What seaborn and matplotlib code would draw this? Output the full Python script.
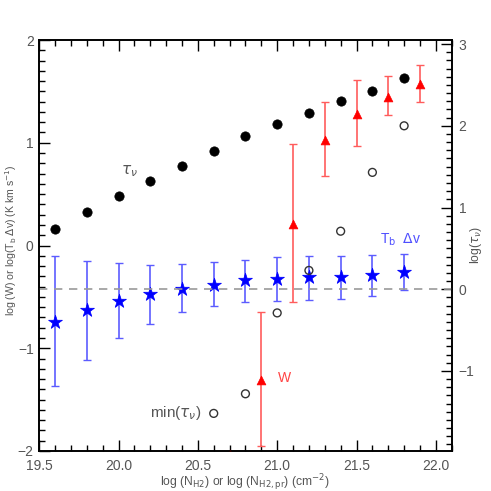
import numpy as np
import pandas as pd
import matplotlib
matplotlib.use('Agg')
import matplotlib.pyplot as plt
import seaborn as sns
from matplotlib.ticker import MultipleLocator

# log N(H2) bins
x_tau = [19.6, 19.8, 20.0, 20.2, 20.4, 20.6, 20.8, 21.0, 21.2, 21.4, 21.6, 21.8]
log_tau = [0.74, 0.95, 1.14, 1.33, 1.51, 1.69, 1.87, 2.02, 2.16, 2.30, 2.43, 2.58]

x_mintau = [20.6, 20.8, 21.0, 21.2, 21.4, 21.6, 21.8]
log_mintau = [-1.52, -1.28, -0.29, 0.23, 0.71, 1.43, 2.00]

x_w = [20.7, 20.9, 21.1, 21.3, 21.5, 21.7, 21.9]
log_w = [-2.03, -1.31, 0.21, 1.03, 1.28, 1.45, 1.57]
w_err_lo = [0.0, 0.64, 0.76, 0.35, 0.31, 0.18, 0.17]
w_err_hi = [0.0, 0.66, 0.78, 0.37, 0.33, 0.20, 0.19]

x_tb = [19.6, 19.8, 20.0, 20.2, 20.4, 20.6, 20.8, 21.0, 21.2, 21.4, 21.6, 21.8]
log_tb = [-0.74, -0.63, -0.54, -0.47, -0.42, -0.38, -0.34, -0.33, -0.31, -0.31, -0.29, -0.26]
tb_err_lo = [0.63, 0.48, 0.36, 0.29, 0.23, 0.21, 0.21, 0.21, 0.22, 0.21, 0.20, 0.17]
tb_err_hi = [0.64, 0.48, 0.37, 0.28, 0.24, 0.22, 0.20, 0.22, 0.21, 0.21, 0.20, 0.18]

sns.set_style('ticks')
plt.rcParams['font.family'] = ['Liberation Sans', 'DejaVu Sans']
plt.rcParams['mathtext.fontset'] = 'dejavusans'

grey = '#555555'

fig = plt.figure(figsize=(4.91, 4.91), dpi=100)
ax = fig.add_axes([0.0798, 0.0815, 0.8402, 0.837])
ax2 = ax.twinx()

# left axis: W and Tb dv
ax.errorbar(x_tb, log_tb, yerr=[tb_err_lo, tb_err_hi], fmt='none',
            ecolor='#5c5cff', elinewidth=1.2, capsize=3, capthick=1.0, zorder=2)
sns.scatterplot(x=x_tb, y=log_tb, marker='*', s=110, color='blue',
                edgecolor='blue', linewidth=0.5, ax=ax, zorder=3)
ax.errorbar(x_w, log_w, yerr=[w_err_lo, w_err_hi], fmt='none',
            ecolor='#ff5c5c', elinewidth=1.2, capsize=3, capthick=1.0, zorder=2)
sns.scatterplot(x=x_w, y=log_w, marker='^', s=40, color='red',
                edgecolor='red', linewidth=0.5, ax=ax, zorder=3)

# right axis: optical depth
sns.scatterplot(x=x_tau, y=log_tau, marker='o', s=45, color='black',
                edgecolor='black', linewidth=0.5, ax=ax2, zorder=3)
sns.scatterplot(x=x_mintau, y=log_mintau, marker='o', s=32, facecolor='none',
                edgecolor='#333333', linewidth=1.0, ax=ax2, zorder=3)
ax2.axhline(0, color='#999999', ls=(0, (5, 4)), lw=1.2, zorder=1)

ax.set_xlim(19.5, 22.1)
ax.set_ylim(-2, 2)
ax2.set_ylim(-1.98, 3.05)

ax.xaxis.set_major_locator(MultipleLocator(0.5))
ax.xaxis.set_minor_locator(MultipleLocator(0.1))
ax.yaxis.set_major_locator(MultipleLocator(1))
ax.yaxis.set_minor_locator(MultipleLocator(0.1))
ax2.yaxis.set_major_locator(MultipleLocator(1))
ax2.yaxis.set_minor_locator(MultipleLocator(0.1))
ax.xaxis.set_major_formatter(matplotlib.ticker.FormatStrFormatter('%.1f'))

ax.tick_params(which='both', direction='in', top=True, right=False,
               colors='black', labelcolor=grey, labelsize=10, pad=4)
ax.tick_params(axis='x', which='both', pad=6)
ax.tick_params(which='major', length=8, width=1)
ax.tick_params(which='minor', length=4, width=1)
ax2.tick_params(which='both', direction='in', colors='black', labelcolor=grey,
                labelsize=10, pad=5)
ax2.tick_params(which='major', length=8, width=1)
ax2.tick_params(which='minor', length=4, width=1)

for a in (ax, ax2):
    for sp in a.spines.values():
        sp.set_linewidth(1.2)
        sp.set_color('black')

ax.set_xlabel(r'log (N$_{\rm H2}$) or log (N$_{\rm H2,pr}$) (cm$^{-2}$)',
              color=grey, fontsize=8.7, labelpad=-1)
ax.set_ylabel(r'log (W) or log(T$_{\rm b}$ $\Delta$v) (K km s$^{-1}$)',
              color=grey, fontsize=7.6)
ax.yaxis.set_label_coords(-0.05, 0.513)
ax2.set_ylabel(r'log($\tau_\nu$)', color=grey, fontsize=8.7)
ax2.yaxis.set_label_coords(1.04, 0.5)

ax.text(20.07, 0.72, r'$\tau_\nu$', color=grey, fontsize=11, ha='center', va='center')
ax.text(20.36, -1.63, r'min($\tau_\nu$)', color=grey, fontsize=11, ha='center', va='center')
ax.text(21.045, -1.29, 'W', color='#ff4444', fontsize=10, ha='center', va='center')
ax.text(21.78, 0.06, r'T$_{\rm b}$  $\Delta$v', color='#4f4fff', fontsize=10,
        ha='center', va='center')

plt.savefig('out.png', dpi=100)
